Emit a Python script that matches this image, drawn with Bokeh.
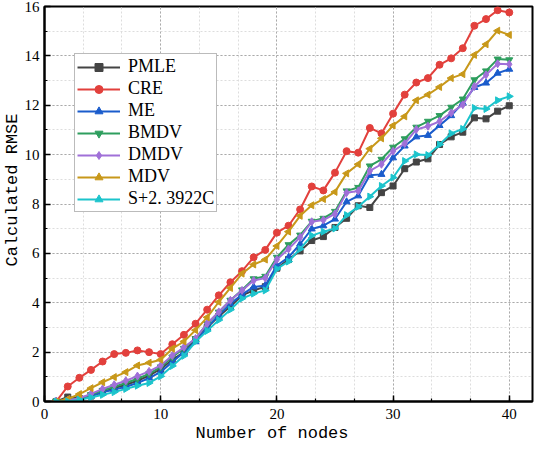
import numpy as np
from bokeh.plotting import figure
from bokeh.models import SingleIntervalTicker, Range1d, Legend, LegendItem, Title
from bokeh.embed import file_html
from bokeh.resources import INLINE

nodes = list(range(1, 41))

pmle = [0, 0.18, 0.12, 0.22, 0.37, 0.55, 0.68, 0.84, 1.05, 1.32, 1.69, 2.0, 2.5, 3.0, 3.45, 3.85, 4.3, 4.5, 4.65, 5.4,
        5.75, 6.1, 6.52, 6.68, 7.05, 7.42, 7.93, 7.86, 8.46, 8.73, 9.43, 9.7, 9.83, 10.41, 10.72, 10.91, 11.49, 11.45, 11.76, 11.98]
cre = [0, 0.61, 0.96, 1.28, 1.62, 1.92, 1.97, 2.07, 2.0, 1.92, 2.32, 2.7, 3.15, 3.72, 4.3, 4.83, 5.28, 5.84, 6.14, 6.84,
       7.12, 7.78, 8.71, 8.55, 9.27, 10.14, 10.08, 11.08, 10.86, 11.66, 12.43, 12.92, 13.1, 13.64, 13.9, 14.31, 15.22, 15.49, 15.85, 15.76]
me = [0, 0.05, 0.1, 0.22, 0.38, 0.48, 0.6, 0.75, 0.95, 1.2, 1.6, 2.0, 2.42, 3.0, 3.5, 3.96, 4.33, 4.64, 4.7, 5.51,
      5.84, 6.38, 6.99, 7.12, 7.39, 8.09, 8.33, 9.16, 9.2, 9.87, 10.35, 10.72, 10.78, 11.18, 11.58, 12.09, 12.72, 12.9, 13.3, 13.46]
bmdv = [0, 0.05, 0.12, 0.28, 0.45, 0.6, 0.75, 0.92, 1.12, 1.4, 1.8, 2.15, 2.55, 3.15, 3.62, 4.1, 4.52, 4.97, 5.07, 5.84,
        6.35, 6.74, 7.3, 7.42, 7.7, 8.53, 8.67, 9.54, 9.81, 10.3, 10.64, 11.11, 11.35, 11.58, 11.92, 12.25, 13.03, 13.39, 13.87, 13.84]
dmdv = [0, 0.04, 0.13, 0.31, 0.51, 0.68, 0.84, 1.03, 1.22, 1.46, 1.86, 2.2, 2.55, 3.16, 3.63, 4.1, 4.5, 4.9, 5.0, 5.75,
        6.18, 6.65, 7.28, 7.35, 7.6, 8.46, 8.53, 9.34, 9.61, 10.14, 10.45, 11.02, 11.15, 11.35, 11.69, 12.02, 12.76, 13.23, 13.68, 13.66]
mdv = [0, 0.1, 0.3, 0.54, 0.78, 0.99, 1.19, 1.46, 1.57, 1.69, 2.14, 2.43, 2.89, 3.41, 4.03, 4.6, 5.18, 5.55, 5.75, 6.3,
       6.88, 7.52, 7.95, 8.2, 8.49, 9.24, 9.61, 10.24, 10.66, 11.18, 11.55, 12.2, 12.43, 12.74, 13.1, 13.26, 14.04, 14.47, 15.02, 14.85]
s_c = [0, 0, 0.07, 0.16, 0.27, 0.38, 0.51, 0.64, 0.75, 1.02, 1.44, 1.85, 2.42, 2.86, 3.3, 3.72, 4.17, 4.37, 4.5, 5.37,
       5.67, 6.18, 6.72, 6.88, 7.01, 7.55, 7.89, 8.3, 8.73, 9.07, 9.74, 10.01, 9.98, 10.41, 10.86, 11.04, 11.89, 11.85, 12.2, 12.36]

names = ["PMLE", "CRE", "ME", "BMDV", "DMDV", "MDV", "S+2. 3922C"]
series = [pmle, cre, me, bmdv, dmdv, mdv, s_c]
colors = ["#444444", "#e2403c", "#1a5ccc", "#2e9e5e", "#a070d8", "#c8981a", "#1cc4cc"]
markers = ["square", "circle", "triangle", "inverted_triangle", "diamond", "triangle", "triangle"]
angles = [0, 0, 0, 0, 0, np.pi / 2, -np.pi / 2]
sizes = [6, 7, 7, 7, 8, 7, 7]

p = figure(width=534, height=442, output_backend="svg", toolbar_location=None,
           x_range=Range1d(0, 42), y_range=Range1d(0, 16),
           min_border_left=43, min_border_right=2, min_border_top=6, min_border_bottom=40)

p.outline_line_color = "black"
p.outline_line_width = 2
p.outline_line_alpha = 1

for ax in (p.xaxis[0], p.yaxis[0]):
    ax.axis_line_width = 2
    ax.axis_line_color = "black"
    ax.major_tick_in = 6
    ax.major_tick_out = 0
    ax.minor_tick_in = 3
    ax.minor_tick_out = 0
    ax.major_tick_line_width = 1.5
    ax.minor_tick_line_width = 1.2
    ax.major_label_text_font = "Liberation Serif"
    ax.major_label_text_font_size = "15px"
    ax.major_label_text_color = "black"

p.xaxis[0].major_label_standoff = 7
p.yaxis[0].major_label_standoff = 5

p.xaxis[0].ticker = SingleIntervalTicker(interval=10, num_minor_ticks=3)
p.yaxis[0].ticker = SingleIntervalTicker(interval=2, num_minor_ticks=2)

xtitle = Title(text="Number of nodes", align="left", offset=151, standoff=0,
               text_font="Liberation Mono", text_font_size="17px", text_font_style="normal",
               text_color="black")
ytitle = Title(text="Calculated RMSE", align="left", offset=135, standoff=0,
               text_font="Liberation Mono", text_font_size="17px", text_font_style="normal",
               text_color="black")
p.add_layout(xtitle, "below")
p.add_layout(ytitle, "left")

for g in (p.xgrid[0], p.ygrid[0]):
    g.grid_line_color = "#aaaaaa"
    g.grid_line_dash = "2 2"
    g.grid_line_width = 1
    g.minor_grid_line_color = "#dddddd"
    g.minor_grid_line_dash = "2 2"
    g.minor_grid_line_width = 1

items = []
for name, ys, c, m, a, s in zip(names, series, colors, markers, angles, sizes):
    r1 = p.line(nodes, ys, line_color=c, line_width=2)
    r2 = p.scatter(nodes, ys, marker=m, angle=a, size=s, fill_color=c, line_color=c)
    items.append(LegendItem(label=name, renderers=[r1, r2]))

legend = Legend(items=items, location=(30, 189))
legend.label_text_font = "Liberation Serif"
legend.label_text_font_size = "18px"
legend.label_text_color = "black"
legend.glyph_width = 43
legend.glyph_height = 20
legend.label_height = 20
legend.spacing = 1
legend.padding = 2
legend.margin = 0
legend.label_standoff = 8
legend.border_line_color = "#777777"
legend.border_line_width = 1.5
legend.background_fill_alpha = 1
p.add_layout(legend, "center")

open("out.html", "w").write(file_html(p, INLINE))
